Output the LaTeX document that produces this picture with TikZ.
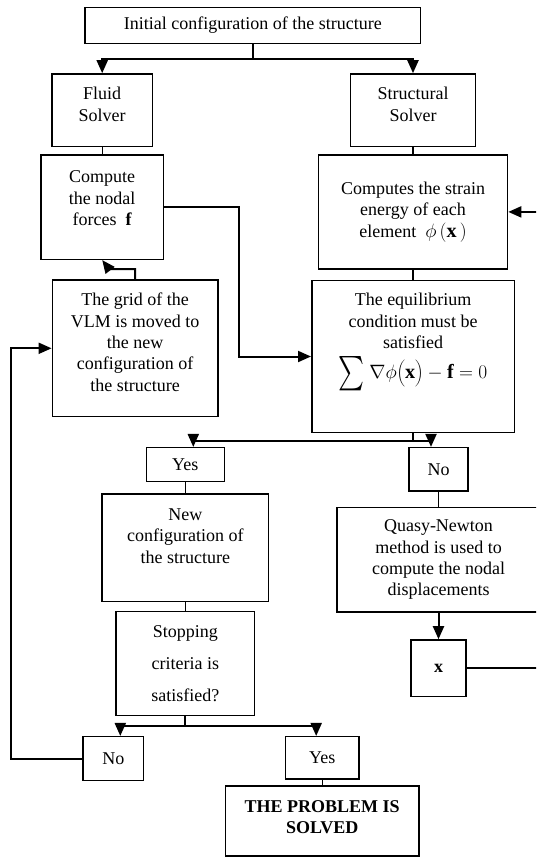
\documentclass[tikz,border=0pt]{standalone}
\usepackage{fontspec}
\setmainfont{Liberation Serif}
\usetikzlibrary{arrows.meta,calc}
\begin{document}
\begin{tikzpicture}[x=1pt,y=-1pt]
    \useasboundingbox (0,0) rectangle (536,857);
    \clip (0,0) rectangle (536,857);
    \begin{scope}[every node/.style = {rectangle, draw, line width=1.5pt, align=center, inner sep=0pt, font=\fontsize{18}{21.3}\selectfont}]
        \node(init) at (252.75,25.3) [minimum width=335.5pt, minimum height=36pt] {Initial configuration of the structure};
        \node(fluid) at (102.2,110.3) [minimum width=100.5pt, minimum height=72.7pt] {Fluid\\Solver\\[-9pt]\mbox{}};
        \node(struct) at (413,110.3) [minimum width=125pt, minimum height=72.7pt] {Structural\\Solver\\[-9pt]\mbox{}};
        \node(compute) at (102.2,207.2) [minimum width=122.4pt, minimum height=104.3pt] {Compute\\the nodal\\forces\ \ \textbf{f}\\[-3pt]\mbox{}};
        \node(strain) at (413,211.9) [minimum width=189.1pt, minimum height=113.7pt] {Computes the strain\\energy of each\\element\ \ \scalebox{1.12}{$\phi\,\Bigl(\mathbf{x}\,\Bigr)$}};
        \node(grid) at (135.2,348.3) [minimum width=165.7pt, minimum height=136.7pt] {The grid of the\\VLM is moved to\\the new\\configuration of\\the structure\\[-9pt]\mbox{}};
        \node(equil) at (413,356.5) [minimum width=202.5pt, minimum height=151.6pt] {The equilibrium\\condition must be\\satisfied\\[7pt]$\vcenter{\hbox{\resizebox{26pt}{32pt}{$\sum$}}}\;$\scalebox{1.12}{$\nabla\phi\biggl(\mathbf{x}\biggr)-\mathbf{f}=0$}\\[20pt]\mbox{}};
        \node(yesA) at (185.3,464.7) [minimum width=78pt, minimum height=34pt] {Yes};
        \node(noA) at (438.5,469.3) [minimum width=59pt, minimum height=43.3pt] {No};
        \node(newconf) at (185.3,547.7) [minimum width=166.4pt, minimum height=107.3pt] {New\\configuration of\\the structure\\[2pt]\mbox{}};
        \node(quasy) at (438.5,559.7) [minimum width=203.2pt, minimum height=104.7pt] {Quasy-Newton\\method is used to\\compute the nodal\\displacements};
        \node(xnode) at (438.5,668.3) [minimum width=55pt, minimum height=56.7pt] {\textbf{x}};
        \node(stop) at (185.3,663.7) [minimum width=138.7pt, minimum height=104pt] {Stopping\\[10.4pt]criteria is\\[10.4pt]satisfied?};
        \node(noB) at (113.3,758.7) [minimum width=60.6pt, minimum height=44pt] {No};
        \node(yesB) at (322.2,757.85) [minimum width=73.5pt, minimum height=42.3pt] {Yes};
        \node(solved) at (322.2,821) [minimum width=193.2pt, minimum height=70pt] {\textbf{THE PROBLEM IS}\\\textbf{SOLVED}\\[-13pt]\mbox{}};
    \end{scope}

    \coordinate (rim) at (545,0);

    \begin{scope}[every edge/.style = {draw, line width=1.2pt}]
        \path(fluid) edge[] (compute);
        \path(struct) edge[] (strain);
        \path(strain) edge[] (equil);
        \path(yesA) edge[] (newconf);
        \path(noA) edge[] (quasy);
        \path(newconf) edge[] (stop);
        \path(yesB) edge[] (solved);
    \end{scope}

    \begin{scope}[line width=2pt, -{Triangle[length=13pt,width=11pt]}]
        \draw (init.south) -- ++(0,15) -| (fluid.north);
        \draw (init.south) -- ++(0,15) -| (struct.north);
        \draw (compute.east) -- ++(74.4,0) |- (equil.west);
        \draw (grid.north) -- ++(0,-10) -- ++(-26,0) -- (compute.south);
        \draw (equil.south) -- ++(0,8.4) -| ($(yesA.north)+(8,0)$);
        \draw (equil.south) -- ++(0,8.4) -| ($(noA.north)+(-7.5,0)$);
        \draw (quasy) -- (xnode);
        \draw (stop.south) -- ++(0,10) -| ($(noB.north)+(7,0)$);
        \draw (stop.south) -- ++(0,10) -| ($(yesB.north)+(-6,0)$);
        \draw (noB.west) -- ++(-71.3,0) |- (grid.west);
        \draw (xnode.east) -- (xnode.east -| rim) -- (strain.east -| rim) -- (strain.east);
    \end{scope}
\end{tikzpicture}
\end{document}
